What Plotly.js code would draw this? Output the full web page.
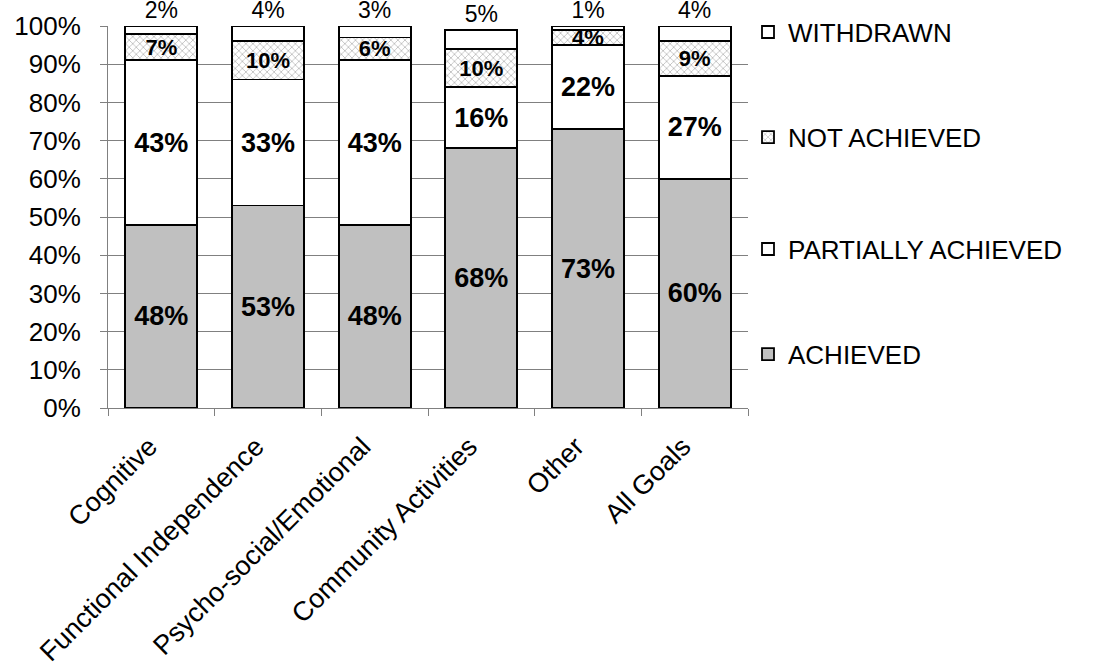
<!DOCTYPE html>
<html>
<head>
<meta charset="utf-8">
<script src="https://cdn.plot.ly/plotly-3.0.1.min.js"></script>
<style>
  html, body { margin: 0; padding: 0; background: #ffffff; }
  #chart { width: 1104px; height: 669px; }
</style>
</head>
<body>
<div id="chart"></div>
<script>
// Goal outcome categories
const categories = ['Cognitive', 'Functional Independence', 'Psycho-social/Emotional',
                    'Community Activities', 'Other', 'All Goals'];

// Share of goals (%) by outcome
const achieved          = [48, 53, 48, 68, 73, 60];
const partiallyAchieved = [43, 33, 43, 16, 22, 27];
const notAchieved       = [7, 10, 6, 10, 4, 9];
const withdrawn         = [2, 4, 3, 5, 1, 4];

// Axis ticks
const yTickVals = [0, 10, 20, 30, 40, 50, 60, 70, 80, 90, 100];
const yTickText = yTickVals.map(v => v + '%');

const FONT = '"Liberation Sans", Arial, sans-serif';
const outline = { color: '#000000', width: 1.8 };
const pct = arr => arr.map(v => v + '%');

function segment(name, values, legendId, extra) {
  return Object.assign({
    type: 'bar',
    name: name,
    x: categories,
    y: values,
    legend: legendId,
    text: pct(values),
    textposition: 'inside',
    insidetextanchor: 'middle',
    textangle: 0,
    constraintext: 'none',
    cliponaxis: false,
    textfont: { family: FONT, size: 27, color: '#000000', weight: 'bold' },
    marker: { color: '#ffffff', line: outline },
    hoverinfo: 'name+y'
  }, extra || {});
}

const traces = [
  segment('ACHIEVED', achieved, 'legend4', {
    marker: { color: '#c0c0c0', line: outline }
  }),
  segment('PARTIALLY ACHIEVED', partiallyAchieved, 'legend3'),
  segment('NOT ACHIEVED', notAchieved, 'legend2', {
    textfont: { family: FONT, size: 22, color: '#000000', weight: 'bold' },
    marker: {
      color: '#ffffff',
      line: outline,
      pattern: { shape: 'x', fgcolor: '#bcbcbc', bgcolor: '#ffffff', size: 5, solidity: 0.3 }
    }
  }),
  segment('WITHDRAWN', withdrawn, 'legend', {
    textposition: 'outside',
    textfont: { family: FONT, size: 23, color: '#000000' }
  })
];

// One legend box per outcome, spaced down the right side
function legendAt(yMid) {
  return {
    x: 1.0, xanchor: 'left',
    y: yMid, yanchor: 'middle',
    font: { family: FONT, size: 26, color: '#000000' },
    bgcolor: 'rgba(0,0,0,0)',
    borderwidth: 0
  };
}

const layout = {
  width: 1104,
  height: 669,
  barmode: 'stack',
  bargap: 0.325,
  paper_bgcolor: '#ffffff',
  plot_bgcolor: '#ffffff',
  font: { family: FONT, color: '#000000', size: 26 },
  margin: { l: 108, r: 356, t: 26, b: 261, autoexpand: false },
  showlegend: true,
  legend:  legendAt(0.984),
  legend2: legendAt(0.709),
  legend3: legendAt(0.416),
  legend4: legendAt(0.141),
  xaxis: {
    type: 'category',
    automargin: false,
    tickangle: -45,
    ticks: 'outside',
    tickson: 'boundaries',
    ticklen: 7,
    tickcolor: '#808080',
    ticklabelstandoff: 11,
    ticklabelshift: -12,
    showline: true,
    linecolor: '#808080',
    linewidth: 1,
    showgrid: false,
    tickfont: { family: FONT, size: 27, color: '#000000' }
  },
  yaxis: {
    automargin: false,
    range: [0, 100],
    tickvals: yTickVals,
    ticktext: yTickText,
    ticks: 'outside',
    ticklen: 7,
    tickcolor: '#808080',
    ticklabelstandoff: 14,
    showline: true,
    linecolor: '#808080',
    linewidth: 1,
    showgrid: true,
    gridcolor: '#808080',
    gridwidth: 1,
    zeroline: false,
    tickfont: { family: FONT, size: 26, color: '#000000' }
  }
};

Plotly.newPlot('chart', traces, layout, { displayModeBar: false, staticPlot: true });
</script>
</body>
</html>
